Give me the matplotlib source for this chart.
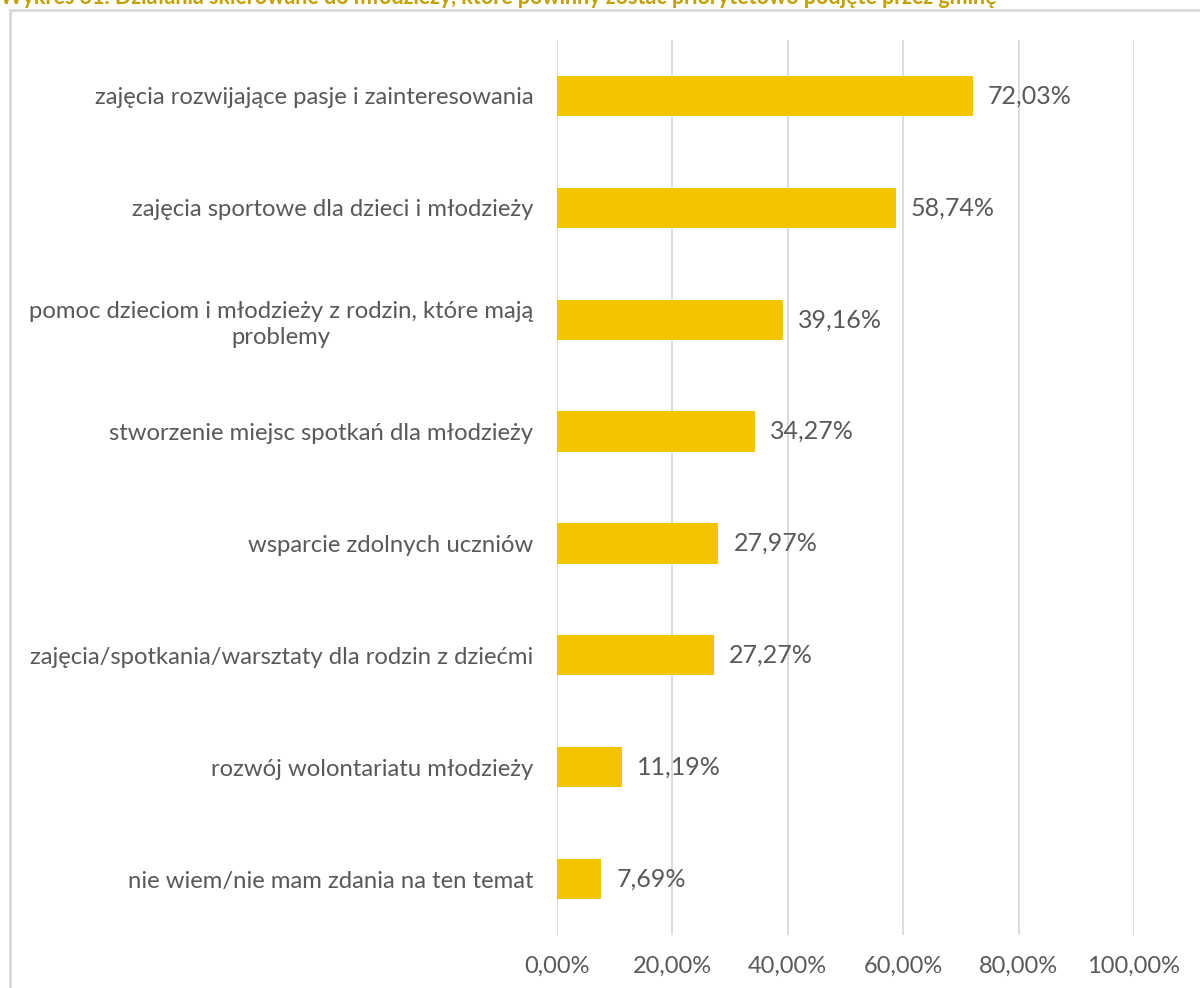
import matplotlib

matplotlib.use("Agg")
import matplotlib.pyplot as plt
from matplotlib.patches import Rectangle
from matplotlib.ticker import FuncFormatter

plt.rcParams["font.family"] = ["Lato", "DejaVu Sans"]

categories = [
    "zajęcia rozwijające pasje i zainteresowania",
    "zajęcia sportowe dla dzieci i młodzieży",
    "pomoc dzieciom i młodzieży z rodzin, które mają\nproblemy",
    "stworzenie miejsc spotkań dla młodzieży",
    "wsparcie zdolnych uczniów",
    "zajęcia/spotkania/warsztaty dla rodzin z dziećmi",
    "rozwój wolontariatu młodzieży",
    "nie wiem/nie mam zdania na ten temat",
]
values = [72.03, 58.74, 39.16, 34.27, 27.97, 27.27, 11.19, 7.69]
title = ("Wykres 31. Działania skierowane do młodzieży, które powinny zostać "
         "priorytetowo podjęte przez gminę")

text_color = "#595959"
bar_color = "#F5C400"

fig = plt.figure(figsize=(12, 9.88), dpi=100)
W, H = 1200, 988
ax = fig.add_axes([557 / W, 1 - 935 / H, (1134 - 557) / W, (935 - 40) / H])

ypos = list(range(len(categories)))
ax.barh(ypos, values, height=0.36, color=bar_color, zorder=3)
ax.set_ylim(len(categories) - 0.5, -0.5)
ax.set_xlim(0, 100)
ax.set_xticks([0, 20, 40, 60, 80, 100])
ax.xaxis.set_major_formatter(FuncFormatter(lambda v, _: f"{v:.2f}%".replace(".", ",")))
ax.grid(axis="x", color="#D9D9D9", linewidth=1.3, zorder=0)
ax.set_yticks(ypos)
ax.set_yticklabels(categories, fontsize=17.2, color=text_color, ha="right",
                   multialignment="center", linespacing=1.3)
ax.tick_params(axis="both", length=0, colors=text_color)
ax.tick_params(axis="x", labelsize=17, pad=15)
ax.tick_params(axis="y", pad=17)
for s in ax.spines.values():
    s.set_visible(False)

for y, v in zip(ypos, values):
    ax.text(v + 2.6, y, f"{v:.2f}%".replace(".", ","), va="center", ha="left",
            fontsize=18, color=text_color)

fig.patches.append(Rectangle((10 / W, -0.05), 1.1, 1 - 10 / H + 0.05,
                             transform=fig.transFigure, fill=False,
                             edgecolor="#D9D9D9", linewidth=2))
fig.text(0, 1 - 4 / H, title, fontsize=15.5, fontweight="bold", color="#C4A000",
         ha="left", va="baseline")

fig.savefig("out.png", dpi=100)
